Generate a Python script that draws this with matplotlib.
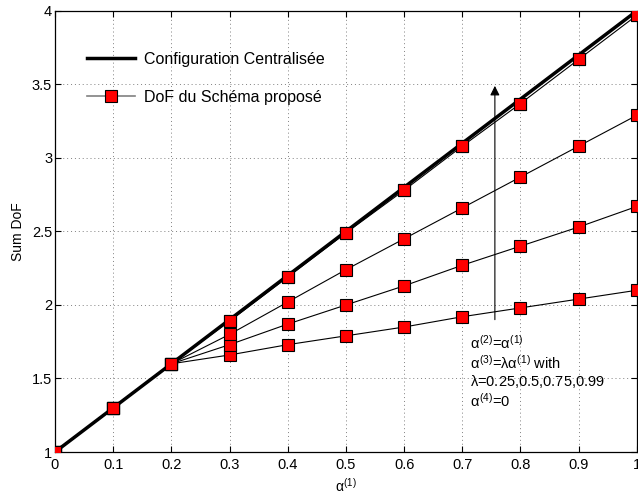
import matplotlib
matplotlib.use("Agg")
import matplotlib.pyplot as plt
from matplotlib.lines import Line2D

plt.rcParams['font.family'] = ['Liberation Sans', 'DejaVu Sans']
plt.rcParams['mathtext.fontset'] = 'custom'
plt.rcParams['mathtext.rm'] = 'Liberation Sans'
plt.rcParams['mathtext.it'] = 'Liberation Sans'

alpha = [0.0, 0.1, 0.2, 0.3, 0.4, 0.5, 0.6, 0.7, 0.8, 0.9, 1.0]
centralized = [1.0, 1.3, 1.6, 1.9, 2.2, 2.5, 2.8, 3.1, 3.4, 3.7, 4.0]
lambdas = [0.25, 0.5, 0.75, 0.99]
proposed = {
    0.99: [1.0, 1.3, 1.6, 1.89, 2.19, 2.49, 2.78, 3.08, 3.37, 3.67, 3.97],
    0.75: [1.0, 1.3, 1.6, 1.80, 2.02, 2.24, 2.45, 2.66, 2.87, 3.08, 3.29],
    0.5:  [1.0, 1.3, 1.6, 1.73, 1.87, 2.00, 2.13, 2.27, 2.40, 2.53, 2.67],
    0.25: [1.0, 1.3, 1.6, 1.66, 1.73, 1.79, 1.85, 1.92, 1.98, 2.04, 2.10],
}
xticks = [0, 0.1, 0.2, 0.3, 0.4, 0.5, 0.6, 0.7, 0.8, 0.9, 1]
xticklabels = ['0', '0.1', '0.2', '0.3', '0.4', '0.5', '0.6', '0.7', '0.8', '0.9', '1']
yticks = [1, 1.5, 2, 2.5, 3, 3.5, 4]
yticklabels = ['1', '1.5', '2', '2.5', '3', '3.5', '4']

fig = plt.figure(figsize=(6.38, 4.94), dpi=100)
ax = fig.add_axes([0.0862, 0.085, 0.912, 0.893])

for lam in lambdas:
    ax.plot(alpha, proposed[lam], color='black', lw=0.8, marker='s', ms=8,
            mfc='red', mec='black', mew=0.8, zorder=3)
ax.plot(alpha, centralized, color='black', lw=2.5, zorder=2)
ax.plot(alpha, proposed[0.99], ls='none', marker='s', ms=8,
        mfc='red', mec='black', mew=0.8, zorder=4)

ax.set_xlim(0, 1)
ax.set_ylim(1, 4)
ax.set_xticks(xticks)
ax.set_xticklabels(xticklabels)
ax.set_yticks(yticks)
ax.set_yticklabels(yticklabels)
ax.tick_params(direction='in', top=True, right=True, labelsize=10.5, length=4, width=0.8)
ax.tick_params(axis='y', pad=2)
ax.tick_params(axis='x', pad=4)
ax.grid(True, linestyle=(0, (1, 3)), color='gray', lw=0.7)
for s in ax.spines.values():
    s.set_linewidth(0.9)

ax.set_xlabel(r'$\alpha^{(1)}$', fontsize=10, labelpad=4)
ax.set_ylabel('Sum DoF', fontsize=10, labelpad=5)

h1 = Line2D([], [], color='black', lw=2.5)
h2 = Line2D([], [], color='gray', lw=1.2, marker='s', ms=8, mfc='red', mec='black', mew=0.8)
ax.legend([h1, h2], ['Configuration Centralisée', 'DoF du Schéma proposé'],
          loc='upper left', bbox_to_anchor=(0.03, 0.94), frameon=False,
          fontsize=11.5, handlelength=3.0, labelspacing=1.45, handletextpad=0.6)

ax.annotate('', xy=(0.756, 3.49), xytext=(0.756, 1.9),
            arrowprops=dict(arrowstyle='-|>', color='black', lw=0.8,
                            mutation_scale=14, shrinkA=0, shrinkB=0))

txt = [r'$\alpha^{(2)}$=$\alpha^{(1)}$',
       r'$\alpha^{(3)}$=$\lambda\alpha^{(1)}$ with',
       r'$\lambda$=0.25,0.5,0.75,0.99',
       r'$\alpha^{(4)}$=0']
for k, t in enumerate(txt):
    ax.text(0.714, 1.74 - k * 0.13, t, fontsize=10.5, va='center', ha='left')

fig.savefig('out.png', dpi=100)
